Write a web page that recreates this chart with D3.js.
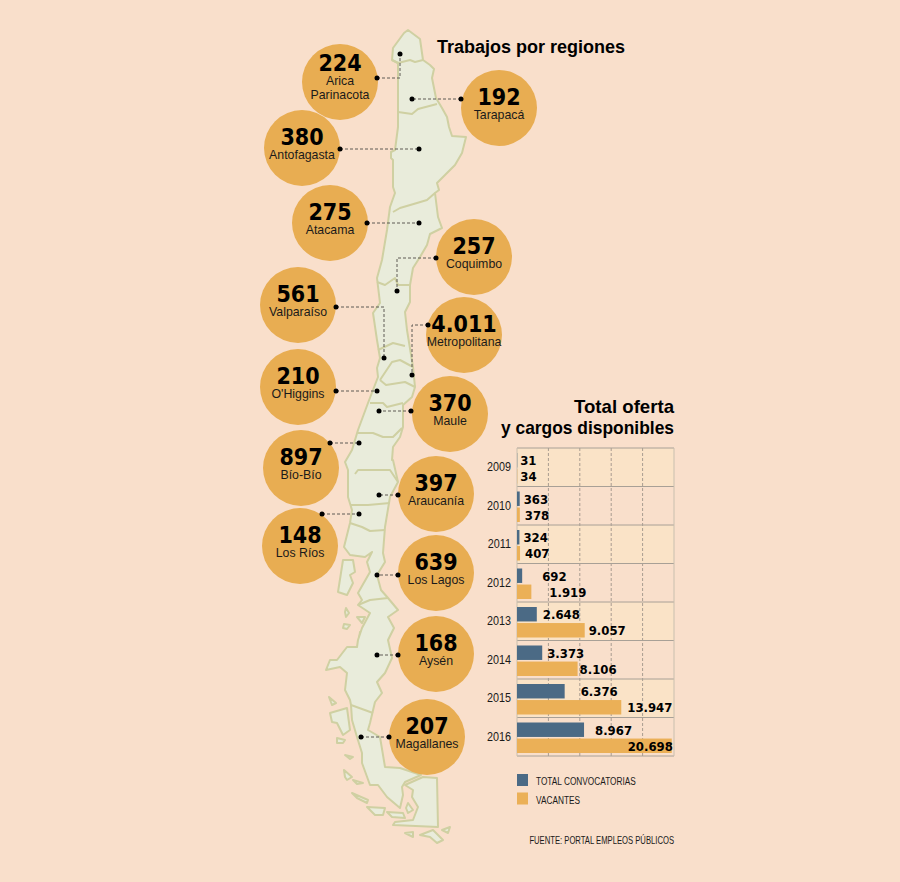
<!DOCTYPE html>
<html>
<head>
<meta charset="utf-8">
<script src="https://cdn.jsdelivr.net/npm/d3@7"></script>
<style>
  html, body { margin: 0; padding: 0; background: #f9dfcb; }
  text { fill: #000; }
  .bold { font-family: "DejaVu Sans Condensed", "DejaVu Sans", sans-serif; font-weight: bold; }
  .title { font-family: "Liberation Sans", sans-serif; font-weight: bold; }
  .cond { font-family: "Liberation Sans", sans-serif; fill: #1a1a1a; }
</style>
</head>
<body>
<div id="chart-area"></div>
<script>
// regiones
const regions = ["Arica|Parinacota", "Tarapacá", "Antofagasta", "Atacama", "Coquimbo", "Valparaíso", "Metropolitana",
  "O'Higgins", "Maule", "Bío-Bío", "Araucanía", "Los Ríos", "Los Lagos", "Aysén", "Magallanes"]
const regionValues = [224, 192, 380, 275, 257, 561, 4011, 210, 370, 897, 397, 148, 639, 168, 207]

// barras
const years = [2009, 2010, 2011, 2012, 2013, 2014, 2015, 2016]
const convocatorias = [31, 363, 324, 692, 2648, 3373, 6376, 8967]
const vacantes = [34, 378, 407, 1919, 9057, 8106, 13947, 20698]
const seriesNames = ["TOTAL CONVOCATORIAS", "VACANTES"]

// separacion de la etiqueta respecto al final de la barra
const convGap = [3, 4, 4, 20, 6, 5, 16, 11]
const vacGap = [3, 5, 5, 18, 4, 2, 6, -44]

// centro de cada circulo
const bubbleX = [340, 499, 302, 330, 474, 298, 464, 298, 450, 301, 436, 300, 436, 436, 427]
const bubbleY = [82, 108, 148, 223, 257, 305, 335, 387, 414, 468, 494, 546, 573, 654, 737]

// lineas punteadas de cada region
const leaders = [
  [[377, 78], [400, 78], [400, 54]],
  [[461, 99], [412, 99]],
  [[340, 149], [419, 149]],
  [[367, 223], [419, 223]],
  [[436, 258], [397, 258], [397, 291]],
  [[336, 307], [384, 307], [384, 358]],
  [[428, 325], [412, 325], [412, 375]],
  [[336, 391], [377, 391]],
  [[411, 411], [379, 411]],
  [[330, 443], [359, 443]],
  [[398, 495], [379, 495]],
  [[322, 514], [359, 514]],
  [[398, 575], [377, 575]],
  [[398, 655], [377, 655]],
  [[389, 737], [361, 737]]
]

// contorno del mapa
const mainland = [[404,33],[408,30],[420,39],[423,60],[430,65],[434,69],[432,78],[436,98],[442,108],[447,117],[449,127],[452,136],[466,137],[462,153],[455,165],[445,175],[437,183],[439,190],[435,193],[438,217],[442,228],[430,234],[427,245],[420,257],[413,268],[410,285],[410,302],[405,312],[407,330],[413,367],[415,387],[412,397],[403,405],[403,427],[400,437],[393,447],[392,460],[393,460],[398,482],[390,497],[385,527],[383,553],[385,562],[377,575],[381,590],[388,598],[398,610],[388,617],[394,628],[388,640],[392,658],[385,673],[377,682],[382,693],[375,702],[370,723],[368,730],[380,737],[385,767],[400,768],[421,775],[405,782],[402,787],[403,795],[400,808],[387,797],[378,785],[370,785],[362,763],[362,753],[357,737],[352,720],[351,705],[350,700],[345,690],[347,673],[340,667],[326,670],[330,660],[337,660],[347,647],[357,647],[358,640],[362,628],[370,613],[358,605],[362,600],[358,593],[370,572],[367,562],[372,552],[365,557],[350,555],[344,547],[350,523],[352,510],[348,497],[348,470],[345,462],[352,450],[358,430],[368,403],[378,377],[377,368],[380,358],[377,340],[373,313],[380,303],[377,278],[382,260],[387,230],[390,207],[395,193],[393,187],[393,160],[391,158],[391,152],[395,150],[398,127],[398,87],[398,63],[392,60],[393,48]]

const borders = [
  [[392,60],[398,63],[410,60],[415,62],[423,60]],
  [[398,112],[412,114],[418,109],[437,104]],
  [[393,212],[400,208],[417,203],[427,200],[435,193]],
  [[377,282],[385,285],[395,278],[398,285],[410,285]],
  [[378,350],[393,343],[405,346]],
  [[380,380],[392,362],[400,360],[413,367]],
  [[380,380],[386,385],[405,382],[415,387]],
  [[370,403],[383,403],[387,407],[403,403]],
  [[358,433],[373,433],[383,437],[393,437],[402,428]],
  [[355,474],[358,470],[390,470],[398,482]],
  [[350,505],[368,505],[390,503]],
  [[350,523],[362,527],[370,531],[385,530]],
  [[358,605],[370,600],[388,598]],
  [[351,705],[373,713]]
]

const islands = [
  [[343,560],[353,560],[355,572],[350,575],[353,583],[347,595],[338,592]],
  [[346,608],[349,613],[346,617],[345,612]],
  [[344,624],[350,625],[347,629],[343,628]],
  [[357,617],[365,617],[362,623]],
  [[360,632],[367,634],[359,639]],
  [[329,697],[336,703],[332,705]],
  [[330,713],[347,708],[350,730],[343,735],[337,723],[332,722]],
  [[337,738],[345,740],[343,743],[337,743]],
  [[345,755],[353,757],[350,759]],
  [[344,770],[352,777],[347,780],[345,777]],
  [[353,780],[363,783],[357,784]],
  [[352,793],[368,800],[367,803],[357,798]],
  [[367,807],[385,808],[383,815],[375,815]],
  [[387,812],[403,813],[405,818],[392,817]],
  [[423,777],[437,778],[438,827],[393,825],[395,822],[413,820],[418,807],[412,797],[413,790],[405,785]],
  [[408,803],[413,810],[408,813],[406,808]],
  [[405,833],[413,832],[413,837]],
  [[420,835],[433,830],[443,840],[437,843],[430,837]],
  [[442,830],[450,827],[448,833]]
]

const WIDTH = 900
const HEIGHT = 882
const CHART = { LEFT: 517, RIGHT: 674, TOP: 448, BOTTOM: 756 }
const BLUE = "#4b6a85"
const ORANGE = "#ebb057"

const svg = d3.select("#chart-area").append("svg")
  .attr("width", WIDTH)
  .attr("height", HEIGHT)
  .style("display", "block")

svg.append("rect")
  .attr("width", WIDTH)
  .attr("height", HEIGHT)
  .attr("fill", "#f9dfcb")

const es = d3.formatLocale({ decimal: ",", thousands: ".", grouping: [3], currency: ["$", ""] })
const num = es.format(",d")

/// ===============MAPA
const line = d3.line()
const mapG = svg.append("g")
  .attr("fill", "#e9ecdb")
  .attr("stroke", "#cfd0a2")
  .attr("stroke-width", 2)
  .attr("stroke-linejoin", "round")

mapG.selectAll("path.island")
  .data(islands)
  .enter().append("path")
  .attr("class", "island")
  .attr("d", d => line(d) + "Z")

mapG.append("path")
  .attr("d", line(mainland) + "Z")

mapG.selectAll("path.border")
  .data(borders)
  .enter().append("path")
  .attr("class", "border")
  .attr("fill", "none")
  .attr("d", line)

/// ===============CIRCULOS
const bubbles = svg.append("g")
  .selectAll("g")
  .data(regions)
  .enter().append("g")
  .attr("transform", (d, i) => `translate(${bubbleX[i]}, ${bubbleY[i]})`)

bubbles.append("circle")
  .attr("r", 38)
  .attr("fill", "#e8ad52")

bubbles.append("text")
  .attr("class", "bold")
  .attr("text-anchor", "middle")
  .attr("font-size", "23px")
  .attr("y", (d, i) => i == 0 ? -11 : -3)
  .text((d, i) => num(regionValues[i]))

bubbles.each(function (d, i) {
  const parts = d.split("|")
  parts.forEach((p, k) => {
    d3.select(this).append("text")
      .attr("class", "cond")
      .attr("text-anchor", "middle")
      .attr("font-size", "13px")
      .attr("transform", `translate(0, ${(i == 0 ? 3 : 11) + k * 14}) scale(0.95, 1)`)
      .text(p)
  })
})

// lineas
const leaderG = svg.append("g")
leaderG.selectAll("path")
  .data(leaders)
  .enter().append("path")
  .attr("d", line)
  .attr("fill", "none")
  .attr("stroke", "#5f5a55")
  .attr("stroke-width", 1)
  .attr("stroke-dasharray", "3,2")

leaderG.selectAll("circle")
  .data(leaders.flatMap(d => [d[0], d[d.length - 1]]))
  .enter().append("circle")
  .attr("cx", d => d[0])
  .attr("cy", d => d[1])
  .attr("r", 2.5)
  .attr("fill", "#000")

svg.append("text")
  .attr("class", "title")
  .attr("x", 437)
  .attr("y", 53)
  .attr("font-size", "18px")
  .text("Trabajos por regiones")

/// ===============BARRAS
svg.append("text")
  .attr("class", "title")
  .attr("x", CHART.RIGHT)
  .attr("y", 413)
  .attr("text-anchor", "end")
  .attr("font-size", "19px")
  .attr("textLength", 100)
  .attr("lengthAdjust", "spacingAndGlyphs")
  .text("Total oferta")

svg.append("text")
  .attr("class", "title")
  .attr("x", CHART.RIGHT)
  .attr("y", 434)
  .attr("text-anchor", "end")
  .attr("font-size", "19px")
  .attr("textLength", 173)
  .attr("lengthAdjust", "spacingAndGlyphs")
  .text("y cargos disponibles")

const x = d3.scaleLinear()
  .domain([0, 21000])
  .range([CHART.LEFT, CHART.RIGHT])

const y = d3.scaleBand()
  .domain(years)
  .range([CHART.TOP, CHART.BOTTOM])

const inner = d3.scaleBand()
  .domain([0, 1])
  .range([5, 35.5])
  .paddingInner(0.1)

// filas alternas
svg.append("g").selectAll("rect")
  .data(years.filter((d, i) => i % 2 == 0))
  .enter().append("rect")
  .attr("x", CHART.LEFT)
  .attr("y", d => y(d))
  .attr("width", CHART.RIGHT - CHART.LEFT)
  .attr("height", y.bandwidth())
  .attr("fill", "#fae3c7")

// grilla vertical
svg.append("g").selectAll("line")
  .data(d3.range(4200, 21000, 4200))
  .enter().append("line")
  .attr("x1", d => x(d))
  .attr("x2", d => x(d))
  .attr("y1", CHART.TOP)
  .attr("y2", CHART.BOTTOM + 2)
  .attr("stroke", "#a89c90")
  .attr("stroke-dasharray", "3,2")

// grilla horizontal
svg.append("g").selectAll("line")
  .data(years.map(d => y(d)).concat(CHART.BOTTOM))
  .enter().append("line")
  .attr("x1", CHART.LEFT)
  .attr("x2", CHART.RIGHT)
  .attr("y1", d => d)
  .attr("y2", d => d)
  .attr("stroke", "#a8a096")
  .attr("stroke-width", 1)

svg.append("line")
  .attr("x1", CHART.RIGHT)
  .attr("x2", CHART.RIGHT)
  .attr("y1", CHART.TOP)
  .attr("y2", CHART.BOTTOM)
  .attr("stroke", "#c9bfae")

svg.append("line")
  .attr("x1", CHART.LEFT)
  .attr("x2", CHART.LEFT)
  .attr("y1", CHART.TOP)
  .attr("y2", CHART.BOTTOM)
  .attr("stroke", "#c9bfae")

// years
svg.append("g").selectAll("text")
  .data(years)
  .enter().append("text")
  .attr("class", "cond")
  .attr("text-anchor", "end")
  .attr("font-size", "12px")
  .attr("transform", d => `translate(511, ${y(d) + 23}) scale(0.9, 1)`)
  .text(d => d)

const drawSeries = (values, gaps, k, color) => {
  const g = svg.append("g")
  g.selectAll("rect")
    .data(values)
    .enter().append("rect")
    .attr("x", x(0))
    .attr("y", (d, i) => y(years[i]) + inner(k))
    .attr("width", d => x(d) - x(0))
    .attr("height", inner.bandwidth())
    .attr("fill", color)

  g.selectAll("text")
    .data(values)
    .enter().append("text")
    .attr("class", "bold")
    .attr("x", (d, i) => x(d) + gaps[i])
    .attr("y", (d, i) => y(years[i]) + inner(k) + 12)
    .attr("font-size", "13px")
    .text(d => num(d))
}

drawSeries(convocatorias, convGap, 0, BLUE)
drawSeries(vacantes, vacGap, 1, ORANGE)

// legend
const legend = svg.append("g").selectAll("g")
  .data(seriesNames)
  .enter().append("g")
  .attr("transform", (d, i) => `translate(${CHART.LEFT}, ${774 + i * 18.5})`)

legend.append("rect")
  .attr("width", 11)
  .attr("height", 12)
  .attr("fill", (d, i) => i == 0 ? BLUE : ORANGE)

legend.append("text")
  .attr("class", "cond")
  .attr("font-size", "11.5px")
  .attr("transform", "translate(19, 11) scale(0.72, 1)")
  .text(d => d)

svg.append("text")
  .attr("class", "cond")
  .attr("text-anchor", "end")
  .attr("font-size", "10.5px")
  .attr("transform", `translate(${CHART.RIGHT}, 844) scale(0.73, 1)`)
  .text("FUENTE: PORTAL EMPLEOS PÚBLICOS")
</script>
</body>
</html>
